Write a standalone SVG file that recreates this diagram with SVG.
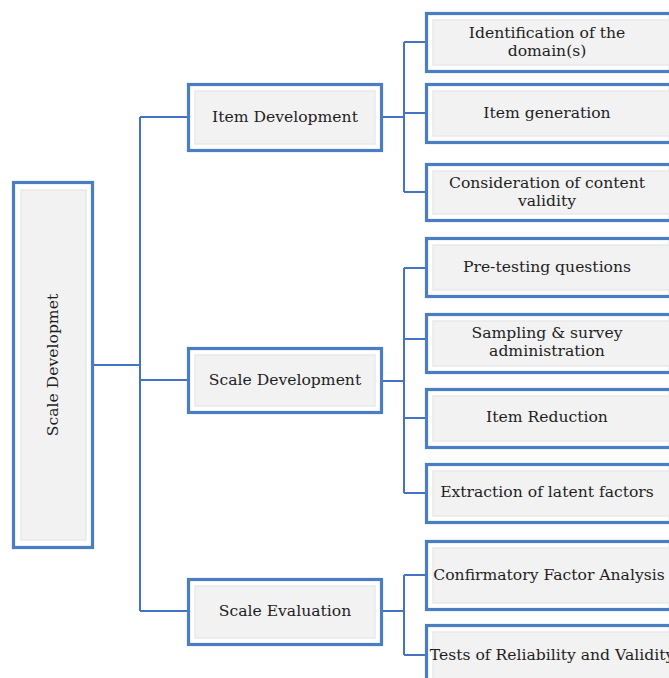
<svg xmlns="http://www.w3.org/2000/svg" width="669" height="678" viewBox="0 0 669 678">
<style>
.ob{fill:#ffffff;stroke:#4a7dc4;stroke-width:3.2}
.ib{fill:#f2f2f2;stroke:#e9e9e9;stroke-width:1.5}
.t{font-family:"DejaVu Serif","Liberation Serif",serif;font-size:15.6px;fill:#1e1e1e;text-anchor:middle}
.c{fill:none;stroke:#4472c4;stroke-width:2}
</style>
<rect width="669" height="678" fill="#ffffff"/>
<g id="connectors">
<path class="c" d="M94,365 H140 M140,117 V611 M140,117 H187 M140,380 H187 M140,611 H187"/>
<path class="c" d="M383,117 H404 M404,42 V192 M404,42 H425 M404,113 H425 M404,192 H425"/>
<path class="c" d="M383,381 H404 M404,268 V493 M404,268 H425 M404,339 H425 M404,418 H425 M404,493 H425"/>
<path class="c" d="M383,611 H404 M404,575 V655 M404,575 H425 M404,655 H425"/>
</g>
<g id="root">
<rect class="ob" x="13.5" y="182.5" width="79" height="365"/>
<rect class="ib" x="21" y="190" width="65" height="350"/>
<text class="t" transform="translate(58,365) rotate(-90)">Scale Developmet</text>
</g>
<g id="item-development">
<rect class="ob" x="188.5" y="84.5" width="193" height="66"/>
<rect class="ib" x="195" y="91" width="180" height="53"/>
<text class="t" x="285" y="122">Item Development</text>
</g>
<g id="scale-development">
<rect class="ob" x="188.5" y="348.5" width="193" height="64"/>
<rect class="ib" x="195" y="355" width="180" height="51"/>
<text class="t" x="285" y="385">Scale Development</text>
</g>
<g id="scale-evaluation">
<rect class="ob" x="188.5" y="579.5" width="193" height="65"/>
<rect class="ib" x="195" y="586" width="180" height="52"/>
<text class="t" x="285" y="616">Scale Evaluation</text>
</g>
<g id="identification">
<rect class="ob" x="426.5" y="13.5" width="244" height="58"/>
<rect class="ib" x="433" y="20" width="240" height="45"/>
<text class="t" x="547" y="38">Identification of the</text>
<text class="t" x="547" y="56">domain(s)</text>
</g>
<g id="item-generation">
<rect class="ob" x="426.5" y="84.5" width="244" height="58"/>
<rect class="ib" x="433" y="91" width="240" height="45"/>
<text class="t" x="547" y="118">Item generation</text>
</g>
<g id="content-validity">
<rect class="ob" x="426.5" y="164.5" width="244" height="56"/>
<rect class="ib" x="433" y="171" width="240" height="43"/>
<text class="t" x="547" y="188">Consideration of content</text>
<text class="t" x="547" y="206">validity</text>
</g>
<g id="pre-testing">
<rect class="ob" x="426.5" y="238.5" width="244" height="58"/>
<rect class="ib" x="433" y="245" width="240" height="45"/>
<text class="t" x="547" y="272">Pre-testing questions</text>
</g>
<g id="sampling">
<rect class="ob" x="426.5" y="314.5" width="244" height="58"/>
<rect class="ib" x="433" y="321" width="240" height="45"/>
<text class="t" x="547" y="338">Sampling &amp; survey</text>
<text class="t" x="547" y="356">administration</text>
</g>
<g id="item-reduction">
<rect class="ob" x="426.5" y="389.5" width="244" height="58"/>
<rect class="ib" x="433" y="396" width="240" height="45"/>
<text class="t" x="547" y="422">Item Reduction</text>
</g>
<g id="extraction">
<rect class="ob" x="426.5" y="464.5" width="244" height="58"/>
<rect class="ib" x="433" y="471" width="240" height="45"/>
<text class="t" x="547" y="497">Extraction of latent factors</text>
</g>
<g id="cfa">
<rect class="ob" x="426.5" y="541.5" width="244" height="68"/>
<rect class="ib" x="433" y="548" width="240" height="55"/>
<text class="t" x="549" y="580">Confirmatory Factor Analysis</text>
</g>
<g id="tests">
<rect class="ob" x="426.5" y="625.5" width="244" height="60"/>
<rect class="ib" x="433" y="632" width="240" height="50"/>
<text class="t" x="552" y="660">Tests of Reliability and Validity</text>
</g>
</svg>
